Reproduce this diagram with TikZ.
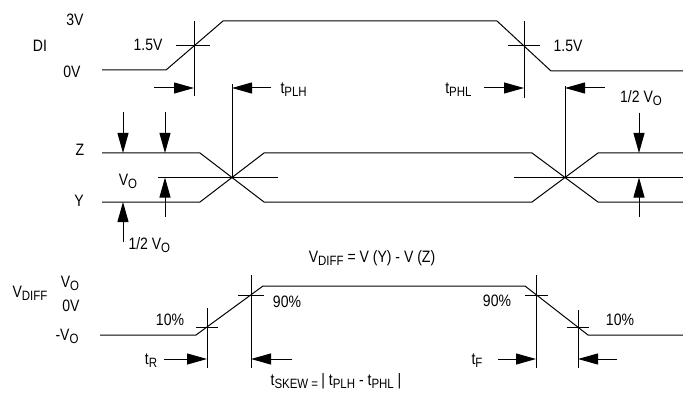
\documentclass[tikz,border=0pt]{standalone}
\usepackage{fontspec}
\setmainfont{Liberation Sans}[FakeStretch=0.85]
\usepackage{tikz}
\usetikzlibrary{arrows.meta, positioning}
\newcommand{\lo}[1]{\raisebox{-3pt}{\fontsize{13.5}{14}\selectfont #1}}

\begin{document}
\begin{tikzpicture}[x=1pt, y=-1pt, line width=1pt,
    >={Triangle[length=20pt, width=11pt]},
    every node/.style={font=\fontsize{16.5}{18}\selectfont, inner sep=0pt}]
  \useasboundingbox (0,0) rectangle (683,401);

  % DI input
  \draw (102,70) -- (166,70) -- (223,21) -- (497,21) -- (551,71) -- (683,71);
  \coordinate (diR) at (194,46);
  \coordinate (diF) at (524,46);
  \draw (194,21) -- (194,96) (176,46) -- (210,46);
  \draw (524,21) -- (524,98) (508,46) -- (540,46);
  \node (lv3) at (75,20) {3V};
  \node (ldi) at (40,46) {DI};
  \node (lv0) at (72,72) {0V};
  \node[anchor=east] (lhalfA) at (163,45) {1.5V};
  \node (lhalfB) at (568,46) {1.5V};

  % propagation delays
  \coordinate (zyL) at (232,177.5);
  \coordinate (zyR) at (565,177.5);
  \draw (232,84) -- (zyL);
  \draw (565,86) -- (zyR);
  \draw[->] (154,88) -- (diR |- 0,88);
  \draw[->] (271,88) -- (zyL |- 0,88);
  \draw[->] (484,88) -- (diF |- 0,88);
  \draw[->] (605,88) -- (zyR |- 0,88);
  \node[anchor=west] (tplh) at (280,90) {t\lo{PLH}};
  \node[anchor=east] (tphl) at (472,90) {t\lo{PHL}};
  \node (lhalfR) at (641,98) {1/2 V\lo{O}};

  % Z and Y outputs
  \draw (102,153) -- (200,153) -- (264,202) -- (532,202) -- (598,153) -- (683,153);
  \draw (102,202) -- (200,202) -- (264,153) -- (532,153) -- (598,202) -- (683,202);
  \draw (158,177.5) -- (278,177.5);
  \draw (514,177.5) -- (683,177.5);
  \draw[->] (123,112) -- (123,153);
  \draw[->] (165,112) -- (165,153);
  \draw[->] (165,217) -- (165,177.5);
  \draw[->] (123,242) -- (123,202);
  \draw[->] (639,113) -- (639,153);
  \draw[->] (639,217) -- (639,177.5);
  \node (lz) at (80,150) {Z};
  \node (ly) at (79,201) {Y};
  \node (lvo) at (128,181) {V\lo{O}};
  \node[anchor=west] (lhalfL) at (128,245) {1/2 V\lo{O}};
  \node (ldiffeq) at (372,258) {V\lo{DIFF} = V (Y) - V (Z)};

  % differential output
  \draw (100,335) -- (196,335) -- (263,286) -- (525,286) -- (588,335) -- (683,335);
  \coordinate (r10) at (207,327);
  \coordinate (r90) at (251,295);
  \coordinate (f90) at (536,295);
  \coordinate (f10) at (578,327);
  \draw (207,308) -- (207,368) (196,327) -- (218,327);
  \draw (251,275) -- (251,368) (238,295) -- (264,295);
  \draw (536,275) -- (536,368) (525,295) -- (548,295);
  \draw (578,310) -- (578,368) (567,327) -- (589,327);
  \draw[->] (164,359) -- (r10 |- 0,359);
  \draw[->] (292,359) -- (r90 |- 0,359);
  \draw[->] (498,359) -- (f90 |- 0,359);
  \draw[->] (617,359) -- (f10 |- 0,359);
  \node (lvdiff) at (30,293) {V\lo{DIFF}};
  \node (lvop) at (70,283) {V\lo{O}};
  \node (lzero) at (71,306) {0V};
  \node (lvon) at (67,336) {-V\lo{O}};
  \node (lpA) at (170,320) {10\%};
  \node (lpB) at (287,302) {90\%};
  \node (lpC) at (497,301) {90\%};
  \node (lpD) at (620,320) {10\%};
  \node (ltr) at (151,361) {t\lo{R}};
  \node (ltf) at (477,361) {t\lo{F}};
  \node (lskew) at (336,381) {t\lo{SKEW = }| t\lo{PLH} - t\lo{PHL} |};
\end{tikzpicture}
\end{document}
